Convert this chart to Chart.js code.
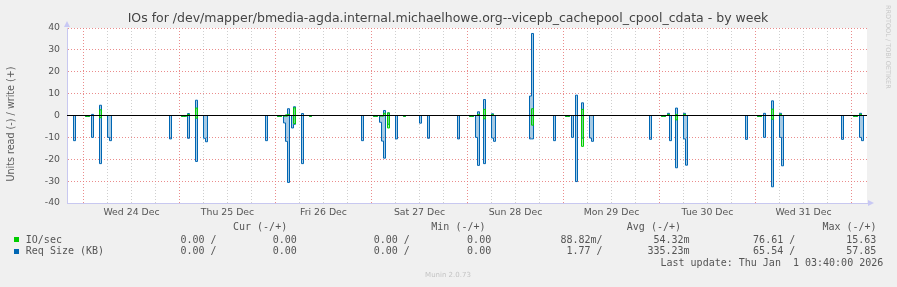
<!DOCTYPE html>
<html>
<head>
<meta charset="utf-8">
<script src="https://cdn.jsdelivr.net/npm/chart.js@4.4.1/dist/chart.umd.min.js"></script>
<style>
  html, body { margin: 0; padding: 0; background: #f0f0f0; }
  #wrap { position: relative; width: 897px; height: 287px; overflow: hidden; }
  #myChart { position: absolute; left: 0; top: 0; }
  .abs { position: absolute; white-space: pre; }
  .mono { font-family: "DejaVu Sans Mono", monospace; font-size: 10px; line-height: 12px; color: #555; }
  #title { left: 448px; top: 11px; transform: translateX(-50%); font-family: "DejaVu Sans", sans-serif; font-size: 12.5px; line-height: 14px; color: #444; }
  #ytitle { left: 10px; top: 124px; transform: translate(-50%, -50%) rotate(-90deg); font-family: "DejaVu Sans", sans-serif; font-size: 9.6px; line-height: 11px; color: #5c5c5c; }
  #side { left: 884px; top: 5px; writing-mode: vertical-rl; font-family: "DejaVu Sans", sans-serif; font-size: 6.5px; color: #c8c8c8; }
  #munin { left: 448px; top: 271px; transform: translateX(-50%); font-family: "DejaVu Sans", sans-serif; font-size: 7px; color: #c4c4c4; }
  .sq { position: absolute; width: 5px; height: 5px; }
</style>
</head>
<body>
<div id="wrap">
  <canvas id="myChart" width="897" height="287"></canvas>
  <div id="title" class="abs">IOs for /dev/mapper/bmedia-agda.internal.michaelhowe.org--vicepb_cachepool_cpool_cdata - by week</div>
  <div id="ytitle" class="abs">Units read (-) / write (+)</div>
  <div id="side" class="abs">RRDTOOL / TOBI OETIKER</div>
  <div id="munin" class="abs">Munin 2.0.73</div>
  <div id="legend"></div>
</div>
<script>
// hours since Wed 24 Dec 00:00, 30 minute steps (value covers [t, t+0.5])
// read values are stored as magnitudes and drawn below zero
let ioReadAt  = [0.5, 1, 4, 24.5, 25, 25.5, 28, 48.5, 49, 50, 50.5, 52.5, 56.5, 72.5, 73, 74, 74.5, 76, 80, 96.5, 97, 100, 112, 120.5, 121, 124.5, 144.5, 145, 148, 168.5, 169, 172, 192.5, 193]
let ioRead    = [0.4, 0.4, 1, 0.4, 0.4, 0.3, 1.2, 0.4, 0.4, 0.3, 0.3, 3.7, 0.4, 0.4, 0.4, 0.3, 0.3, 5.7, 0.4, 0.4, 0.4, 1.5, 4.4, 0.4, 0.4, 14.1, 0.4, 0.4, 2, 0.4, 0.4, 1.7, 0.4, 0.4]
let ioWriteAt = [4, 26, 28, 50.5, 51, 52.5, 75, 76, 98.5, 100, 102, 112, 124.5, 146, 148, 150, 172, 174, 194]
let ioWrite   = [2.6, 0.5, 3.4, 0.3, 0.5, 3.5, 1, 1.2, 0.5, 2.8, 0.4, 3.1, 2.8, 0.5, 0.5, 0.5, 2.9, 0.5, 0.5]

let reqReadAt = [-2.5, 0.5, 1, 2, 4, 6, 6.5, 21.5, 24.5, 25, 26, 28, 30, 30.5,
                 45.5, 48.5, 49, 50, 50.5, 51, 52, 52.5, 54.5, 56.5,
                 69.5, 72.5, 73, 74, 74.5, 75, 76, 78, 80, 84, 86,
                 93.5, 96.5, 97, 98, 98.5, 100, 102, 102.5, 111.5, 112,
                 117.5, 120.5, 121, 122, 123, 124.5, 126.5, 127,
                 141.5, 144.5, 145, 146.5, 148, 150, 150.5,
                 165.5, 168.5, 169, 170, 172, 174, 174.5,
                 189.5, 192.5, 193, 194, 194.5]
let reqRead   = [11.5, 0.4, 0.4, 10, 22, 10, 11.5, 10.7, 0.4, 0.4, 10.4, 21, 10.4, 12,
                 11.5, 0.4, 0.4, 3.4, 11.8, 30.6, 5.7, 4, 22, 0.4,
                 11.5, 0.4, 0.4, 3.1, 11.7, 19.5, 4, 10.7, 0.4, 3.5, 10.4,
                 10.7, 0.4, 0.4, 10, 22.8, 22, 10.3, 11.8, 10.7, 10.7,
                 11.5, 0.4, 0.4, 10, 30.2, 10.3, 10.3, 11.8,
                 10.9, 0.4, 0.4, 11.5, 23.9, 10.7, 22.7,
                 10.9, 0.4, 0.4, 10, 32.6, 10, 23,
                 10.9, 0.4, 0.4, 10, 11.5]
let reqWriteAt = [2, 4, 26, 28, 51, 52.5, 54.5, 75, 76, 98.5, 100, 102, 111.5, 112, 123, 124.5, 146, 148, 150, 170, 172, 174, 194]
let reqWrite   = [0.5, 4.7, 0.9, 7, 3.1, 4, 0.9, 2.3, 1.2, 1.7, 7.3, 0.8, 8.9, 37.5, 9.3, 5.8, 1, 3.4, 1, 1, 6.7, 1, 1]

let dayLabels = ['Wed 24 Dec', 'Thu 25 Dec', 'Fri 26 Dec', 'Sat 27 Dec', 'Sun 28 Dec', 'Mon 29 Dec', 'Tue 30 Dec', 'Wed 31 Dec']

let legendNames = ['IO/sec', 'Req Size (KB)']
let legendHeads = ['Cur (-/+)', 'Min (-/+)', 'Avg (-/+)', 'Max (-/+)']
let ioStats  = ['0.00 /', '0.00', '0.00 /', '0.00', '88.82m/', ' 54.32m', '76.61 /', '15.63']
let reqStats = ['0.00 /', '0.00', '0.00 /', '0.00', ' 1.77 /', '335.23m', '65.54 /', '57.85']
let lastUpdate = 'Last update: Thu Jan  1 03:40:00 2026'

const green = '#00cc00'
const blue = '#0066b3'
const tMin = -4.125, tMax = 195.875

// half-hour grid, zero where nothing shows in the picture
function build(at, vals, sign) {
  const pts = []
  for (let t = -4.5; t <= 196; t += 0.5) pts.push({ x: t, y: 0 })
  at.forEach((t, i) => { pts[Math.round((t + 4.5) * 2)].y = sign * vals[i] })
  return pts
}

const plotBg = {
  id: 'plotBg',
  beforeDraw(chart) {
    const { ctx, chartArea: a } = chart
    ctx.save()
    ctx.fillStyle = '#ffffff'
    ctx.fillRect(a.left, a.top, a.width, a.height)
    ctx.restore()
  }
}

const zeroLine = {
  id: 'zeroLine',
  afterDatasetsDraw(chart) {
    const { ctx, chartArea: a, scales } = chart
    const y = scales.y.getPixelForValue(0)
    ctx.save()
    ctx.strokeStyle = '#000000'
    ctx.lineWidth = 1.2
    ctx.beginPath()
    ctx.moveTo(a.left, y)
    ctx.lineTo(a.right, y)
    ctx.stroke()
    ctx.restore()
  }
}

const arrows = {
  id: 'arrows',
  afterDraw(chart) {
    const { ctx, chartArea: a } = chart
    ctx.save()
    ctx.fillStyle = '#c8c8f4'
    ctx.beginPath()
    ctx.moveTo(a.left - 3, a.top - 1)
    ctx.lineTo(a.left + 3, a.top - 1)
    ctx.lineTo(a.left, a.top - 7)
    ctx.fill()
    ctx.beginPath()
    ctx.moveTo(a.right + 1, a.bottom - 3)
    ctx.lineTo(a.right + 1, a.bottom + 3)
    ctx.lineTo(a.right + 7, a.bottom)
    ctx.fill()
    ctx.restore()
  }
}

const ctx = document.getElementById('myChart')

new Chart(ctx, {
  type: 'line',
  data: {
    datasets: [
      { label: 'IO/sec read', data: build(ioReadAt, ioRead, -1), borderColor: green, backgroundColor: 'rgba(0,204,0,0.3)' },
      { label: 'IO/sec write', data: build(ioWriteAt, ioWrite, 1), borderColor: green, backgroundColor: 'rgba(0,204,0,0.3)' },
      { label: 'Req Size read', data: build(reqReadAt, reqRead, -1), borderColor: blue, backgroundColor: 'rgba(0,102,179,0.35)' },
      { label: 'Req Size write', data: build(reqWriteAt, reqWrite, 1), borderColor: blue, backgroundColor: 'rgba(0,102,179,0.35)' }
    ]
  },
  options: {
    responsive: false,
    animation: false,
    layout: { padding: { top: 28, right: 30, bottom: 64, left: 0 } },
    elements: {
      point: { radius: 0 },
      line: { borderWidth: 1, stepped: true, tension: 0, fill: 'origin' }
    },
    plugins: { legend: { display: false }, tooltip: { enabled: false } },
    scales: {
      x: {
        type: 'linear',
        min: tMin,
        max: tMax,
        ticks: {
          stepSize: 6,
          autoSkip: false,
          maxRotation: 0,
          includeBounds: false,
          padding: 4,
          color: '#555',
          font: { family: 'DejaVu Sans', size: 9.33 },
          callback: (v) => (v % 24 === 12 ? dayLabels[(v - 12) / 24] : '')
        },
        grid: {
          drawTicks: false,
          color: (c) => (c.tick && c.tick.value % 24 === 0 ? 'rgba(230,120,120,0.85)' : '#cfcfcf')
        },
        border: { color: '#c8c8f0', dash: [1, 2] },
        afterFit: (s) => { s.height = 20 }
      },
      y: {
        min: -40,
        max: 40,
        ticks: {
          stepSize: 5,
          padding: 7,
          color: '#555',
          font: { family: 'DejaVu Sans', size: 9.33 },
          callback: (v) => (v % 10 === 0 ? v : '')
        },
        grid: {
          drawTicks: false,
          color: (c) => (c.tick && c.tick.value % 10 === 0 ? 'rgba(230,120,120,0.85)' : '#cfcfcf')
        },
        border: { color: '#c8c8f0', dash: [1, 2] },
        afterFit: (s) => { s.width = 67 }
      }
    }
  },
  plugins: [plotBg, zeroLine, arrows]
})

// munin style legend table
const legend = document.getElementById('legend')
function put(text, left, top, cls) {
  const d = document.createElement('div')
  d.className = 'abs ' + cls
  d.style.left = left + 'px'
  d.style.top = top + 'px'
  d.textContent = text
  legend.appendChild(d)
}
const headX = [233, 431.3, 626.8, 822.4]
const colX = [180.4, 272.7, 373.7, 467.1, 560.4, 647.4, 753.1, 846.2]
legendHeads.forEach((h, i) => put(h, headX[i], 221.3, 'mono'))
;[ioStats, reqStats].forEach((row, r) => {
  const top = 233.5 + r * 11.8
  put(legendNames[r], 25.8, top, 'mono')
  row.forEach((s, i) => put(s, colX[i], top, 'mono'))
  const sq = document.createElement('div')
  sq.className = 'sq'
  sq.style.left = '14px'
  sq.style.top = (237.3 + r * 11.8) + 'px'
  sq.style.background = r === 0 ? green : blue
  legend.appendChild(sq)
})
put(lastUpdate, 660.5, 257, 'mono')
</script>
</body>
</html>
